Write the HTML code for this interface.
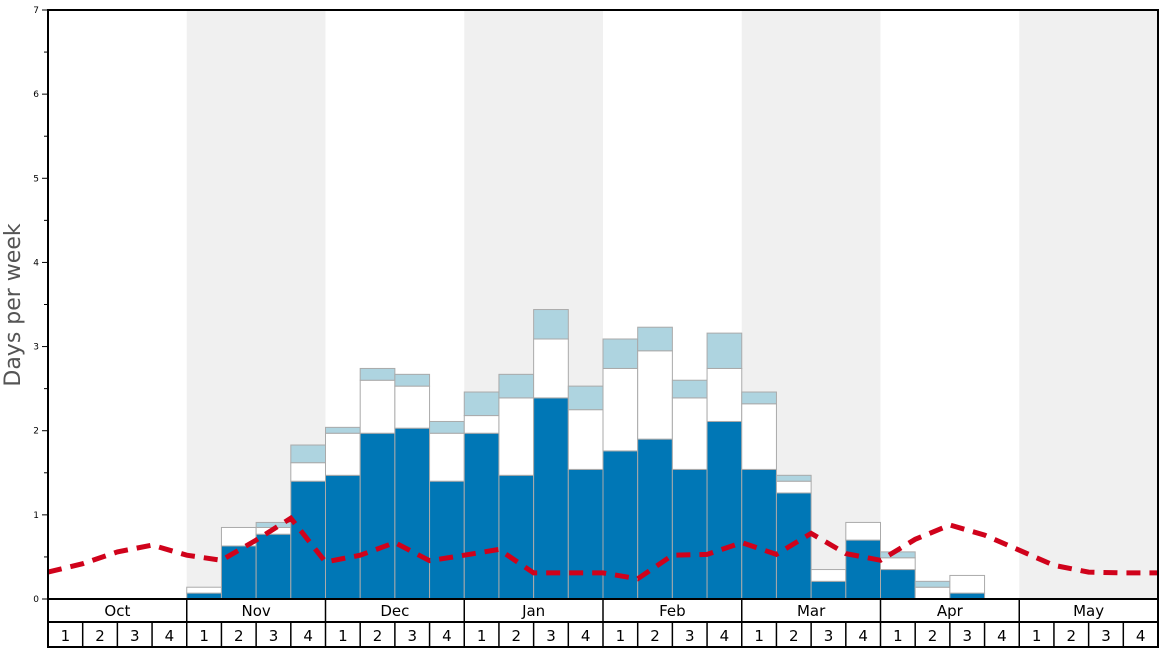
<!DOCTYPE html>
<html><head><meta charset="utf-8"><style>
html,body{margin:0;padding:0;background:#fff;}
svg{display:block;font-family:"DejaVu Sans","Liberation Sans",sans-serif;}
</style></head><body>
<svg id="chart" width="1168" height="648" viewBox="0 0 1168 648"></svg>
<script>
const months = ["Oct","Nov","Dec","Jan","Feb","Mar","Apr","May"];
const weekLabels = ["1","2","3","4"];
const yTicks = [0,1,2,3,4,5,6,7];
// per-week stacked segments (32 weeks, Oct wk1 .. May wk4)
const blueVals  = [0,0,0,0, 0.07,0.63,0.77,1.40, 1.47,1.97,2.03,1.40, 1.97,1.47,2.39,1.54, 1.76,1.90,1.54,2.11, 1.54,1.26,0.21,0.70, 0.35,0,0.07,0, 0,0,0,0];
const whiteVals = [0,0,0,0, 0.07,0.22,0.08,0.22, 0.50,0.63,0.50,0.57, 0.21,0.92,0.70,0.71, 0.98,1.05,0.85,0.63, 0.78,0.14,0.14,0.21, 0.14,0.14,0.21,0, 0,0,0,0];
const lightVals = [0,0,0,0, 0,0,0.06,0.21, 0.07,0.14,0.14,0.14, 0.28,0.28,0.35,0.28, 0.35,0.28,0.21,0.42, 0.14,0.07,0,0, 0.07,0.07,0,0, 0,0,0,0];
// average line at week boundaries (33 points)
const avgVals = [0.32,0.42,0.56,0.64,0.52,0.46,0.70,0.96,0.44,0.52,0.67,0.455,0.52,0.59,0.31,0.31,0.31,0.24,0.52,0.53,0.67,0.53,0.78,0.54,0.46,0.71,0.88,0.76,0.58,0.40,0.32,0.31,0.31];

const NS="http://www.w3.org/2000/svg";
const svg=document.getElementById('chart');
const X0=48,X1=1158,Y0=599,YT=10;
const wW=(X1-X0)/32;
const xs=i=>X0+i*wW;
const ys=v=>Y0-(Y0-YT)*v/7;
function mk(t,a,p){const e=document.createElementNS(NS,t);for(const k in a)e.setAttribute(k,a[k]);(p||svg).appendChild(e);return e;}

// month shading
months.forEach((m,i)=>{
  if(i%2===1){
    const r=mk('rect',{x:xs(i*4),y:YT,width:wW*4,height:Y0-YT,fill:'#f0f0f0'});
    
    
  }
});
// bars
for(let i=0;i<32;i++){
  let base=0;
  const segs=[[blueVals[i],'#0077b6','blue'],[whiteVals[i],'#ffffff','white'],[lightVals[i],'#aed4e0','light']];
  segs.forEach(s=>{
    if(s[0]>0){
      const r=mk('rect',{x:xs(i),y:ys(base+s[0]),width:wW,height:ys(base)-ys(base+s[0]),fill:s[1],stroke:'#aaaaaa','stroke-width':1});
      
      
    }
    base+=s[0];
  });
}
// avg line
const pts=avgVals.map((v,i)=>xs(i).toFixed(1)+','+ys(v).toFixed(1)).join(' ');
const ln=mk('polyline',{points:pts,fill:'none',stroke:'#d0021b','stroke-width':5,'stroke-dasharray':'14,9'});



// frame
const fr=mk('rect',{x:X0,y:YT,width:X1-X0,height:Y0-YT,fill:'none',stroke:'#000','stroke-width':2});


// y ticks
yTicks.forEach(t=>{
  const y=ys(t);
  const tk=mk('line',{x1:X0-6,x2:X0,y1:y,y2:y,stroke:'#000','stroke-width':1});
  
  
  const tx=mk('text',{x:X0-9,y:y+3,'font-size':9,'text-anchor':'end',fill:'#000'});
  tx.textContent=t;
  
  
  if(t<7){
    const y2=ys(t+0.5);
    const mt=mk('line',{x1:X0-4,x2:X0,y1:y2,y2:y2,stroke:'#000','stroke-width':1});
    
    
  }
});
const yt=mk('text',{x:20,y:305,'font-size':22,fill:'#555','text-anchor':'middle',transform:'rotate(-90 20 305)'});
yt.textContent='Days per week';



// x axis table
const ax=mk('rect',{x:X0,y:Y0,width:X1-X0,height:647-Y0,fill:'#fff',stroke:'#000','stroke-width':2});


const hl=mk('line',{x1:X0,x2:X1,y1:622,y2:622,stroke:'#000','stroke-width':2});


months.forEach((m,i)=>{
  const ml=mk('line',{x1:xs(i*4),x2:xs(i*4),y1:Y0,y2:647,stroke:'#000','stroke-width':1.5});
  
  
  const mt=mk('text',{x:xs(i*4+2),y:616,'font-size':15,'text-anchor':'middle',fill:'#000'});
  mt.textContent=m;
  
  
  weekLabels.forEach((w,j)=>{
    const k=i*4+j;
    if(j>0){
      const wl=mk('line',{x1:xs(k),x2:xs(k),y1:622,y2:647,stroke:'#000','stroke-width':1.5});
      
      
    }
    const wt=mk('text',{x:xs(k+0.5),y:641,'font-size':15,'text-anchor':'middle',fill:'#000'});
    wt.textContent=w;
    
    
  });
});
</script>
</body></html>
